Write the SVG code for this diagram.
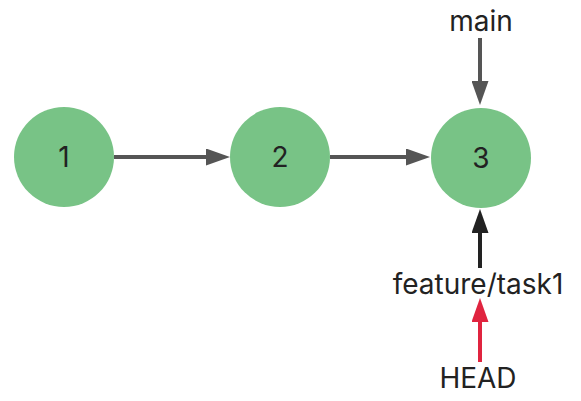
<svg xmlns="http://www.w3.org/2000/svg" width="581" height="401" viewBox="0 0 581 401">
<style>
.node{fill:#78c386}
text{font-family:Inter,"Liberation Sans",sans-serif;font-size:28px;fill:#222;text-anchor:middle}
.g{stroke:#555;stroke-width:4;fill:none}
.k{stroke:#222;stroke-width:4;fill:none}
.r{stroke:#e0243f;stroke-width:4;fill:none}
</style>
<defs>
<marker id="hg" markerUnits="userSpaceOnUse" markerWidth="24" markerHeight="17" refX="4" refY="8.5" orient="auto"><path d="M0,0 L24,8.5 L0,17 z" fill="#555"/></marker>
<marker id="hk" markerUnits="userSpaceOnUse" markerWidth="24" markerHeight="17" refX="4" refY="8.5" orient="auto"><path d="M0,0 L24,8.5 L0,17 z" fill="#222"/></marker>
<marker id="hr" markerUnits="userSpaceOnUse" markerWidth="24" markerHeight="17" refX="4" refY="8.5" orient="auto"><path d="M0,0 L24,8.5 L0,17 z" fill="#e0243f"/></marker>
</defs>
<g id="connectors">
<line class="g" x1="114" y1="157" x2="210" y2="157" marker-end="url(#hg)"/>
<line class="g" x1="330" y1="157" x2="410" y2="157" marker-end="url(#hg)"/>
<line class="g" x1="480" y1="38" x2="480" y2="85" marker-end="url(#hg)"/>
<line class="k" x1="480" y1="268" x2="480" y2="229" marker-end="url(#hk)"/>
<line class="r" x1="480" y1="362" x2="480" y2="318" marker-end="url(#hr)"/>
</g>
<g id="n1"><circle class="node" cx="64" cy="157" r="50"/><text x="64" y="167">1</text></g>
<g id="n2"><circle class="node" cx="280" cy="157" r="50"/><text x="280" y="167">2</text></g>
<g id="n3"><circle class="node" cx="481" cy="158" r="50"/><text x="481" y="168">3</text></g>
<g id="main"><text x="481" y="31">main</text></g>
<g id="feature"><text x="478" y="294">feature/task1</text></g>
<g id="head"><text x="478" y="388">HEAD</text></g>
</svg>
